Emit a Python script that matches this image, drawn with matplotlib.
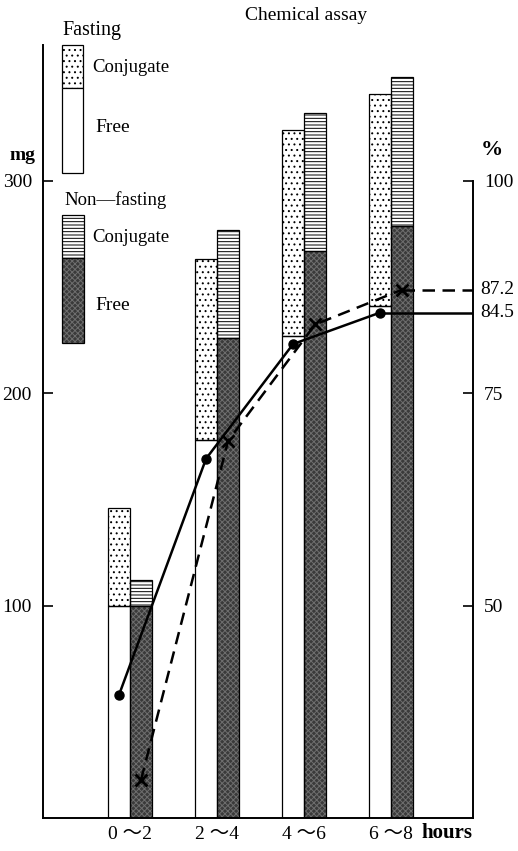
import matplotlib
matplotlib.use("Agg")
import matplotlib.pyplot as plt
from matplotlib.patches import Rectangle
import numpy as np

# data
categories = ["0 ～2", "2 ～4", "4 ～6", "6 ～8"]
fasting_free = [100, 178, 227, 241]          # mg
fasting_total = [146, 263, 324, 341]         # mg (free + conjugate)
nonfasting_free = [100, 226, 267, 279]       # mg
nonfasting_total = [112, 277, 332, 349]      # mg
fasting_pct = [39.5, 67.3, 80.8, 84.5]       # %
nonfasting_pct = [29.5, 69.4, 83.1, 87.2]    # %
mg_ticks = [100, 200, 300]
pct_ticks = [50, 75, 100]

W, H = 518, 851
FONT = ["Liberation Serif", "Noto Sans CJK JP", "DejaVu Serif"]
plt.rcParams["font.family"] = FONT
plt.rcParams["hatch.linewidth"] = 0.7

DARK = "#3a3a3a"
DARK_HATCH = "#6e6e6e"


def fx(x):
    return x / W


def fy(y):
    return 1 - y / H


def layered_bar(ax, x, bottom, height, w, face, hatch=None, hcolor="black"):
    ax.bar(x, height, w, bottom=bottom, color=face, edgecolor="none", linewidth=0, zorder=1)
    if hatch:
        ax.bar(x, height, w, bottom=bottom, fill=False, hatch=hatch,
               edgecolor=hcolor, linewidth=0, zorder=2)
    ax.bar(x, height, w, bottom=bottom, fill=False, edgecolor="black", linewidth=0.9, zorder=3)


def legend_box(fig, x0, x1, y0, y1, face, hatch=None, hcolor="black"):
    xy = (fx(x0), fy(y1))
    w, h = fx(x1) - fx(x0), fy(y0) - fy(y1)
    fig.patches.append(Rectangle(xy, w, h, transform=fig.transFigure,
                                 facecolor=face, edgecolor="none", lw=0))
    if hatch:
        fig.patches.append(Rectangle(xy, w, h, transform=fig.transFigure, fill=False,
                                     hatch=hatch, edgecolor=hcolor, lw=0))
    fig.patches.append(Rectangle(xy, w, h, transform=fig.transFigure, fill=False,
                                 edgecolor="black", lw=0.9))


fig = plt.figure(figsize=(W / 100, H / 100), dpi=100)
ax = fig.add_axes([fx(43), fy(818), fx(473) - fx(43), fy(45) - fy(818)])

x = np.arange(len(categories))
bw = 0.253
xf = x - bw / 2
xn = x + bw / 2
f_conj = np.array(fasting_total) - np.array(fasting_free)
n_conj = np.array(nonfasting_total) - np.array(nonfasting_free)

for i in range(len(categories)):
    layered_bar(ax, xf[i], 0, fasting_free[i], bw, "white")
    layered_bar(ax, xf[i], fasting_free[i], f_conj[i], bw, "white", "...")
    layered_bar(ax, xn[i], 0, nonfasting_free[i], bw, DARK, "xxxxxx", DARK_HATCH)
    layered_bar(ax, xn[i], nonfasting_free[i], n_conj[i], bw, "white", "-----")

ymax = 364
ax.set_ylim(0, ymax)
ax.set_xlim(-1.0, 3.94)
ax.set_yticks(mg_ticks)
ax.set_xticks(x)
ax.set_xticklabels(categories, fontsize=14)
ax.tick_params(axis="x", length=0, pad=6)
ax.tick_params(axis="y", direction="in", length=7, width=1.2, labelsize=14, pad=8)
for s in ["top", "right"]:
    ax.spines[s].set_visible(False)
for s in ["left", "bottom"]:
    ax.spines[s].set_linewidth(1.4)

ax2 = ax.twinx()
ax2.set_ylim(25, 25 + ymax / 4)
ax2.set_yticks(pct_ticks)
ax2.tick_params(axis="y", direction="in", length=7, width=1.2, labelsize=14, pad=8)
for s in ["top", "left", "bottom"]:
    ax2.spines[s].set_visible(False)
ax2.spines["right"].set_linewidth(1.4)
ax2.spines["right"].set_bounds(25, 100)

xr = ax.get_xlim()[1]
ax2.plot(xf, fasting_pct, color="black", lw=1.8, marker="o", ms=6.5, zorder=5)
ax2.plot([xf[-1], xr], [fasting_pct[-1]] * 2, color="black", lw=1.8, zorder=5)
ax2.plot(xn, nonfasting_pct, color="black", lw=1.8, ls=(0, (5, 3)), marker="x",
         ms=8, mew=2, zorder=5)
ax2.plot([xn[-1], xr], [nonfasting_pct[-1]] * 2, color="black", lw=1.8,
         ls=(0, (5, 3)), zorder=5)
ax2.text(xr + 0.08, fasting_pct[-1], f"{fasting_pct[-1]}", fontsize=14,
         va="center", ha="left", clip_on=False)
ax2.text(xr + 0.08, nonfasting_pct[-1], f"{nonfasting_pct[-1]}", fontsize=14,
         va="center", ha="left", clip_on=False)

# legend
legend_box(fig, 62, 83, 45, 88, "white", "...")
legend_box(fig, 62, 83, 88, 173, "white")
legend_box(fig, 62, 84, 215, 258, "white", "-----")
legend_box(fig, 62, 84, 258, 343, DARK, "xxxxxx", DARK_HATCH)
fig.text(fx(62), fy(30), "Fasting", fontsize=14.5, va="center", ha="left")
fig.text(fx(92), fy(67), "Conjugate", fontsize=13.5, va="center", ha="left")
fig.text(fx(95), fy(127), "Free", fontsize=14, va="center", ha="left")
fig.text(fx(64), fy(200), "Non—fasting", fontsize=13.5, va="center", ha="left")
fig.text(fx(92), fy(238), "Conjugate", fontsize=13.5, va="center", ha="left")
fig.text(fx(95), fy(305), "Free", fontsize=14, va="center", ha="left")

fig.text(fx(306), fy(15), "Chemical assay", fontsize=14, va="center", ha="center")
fig.text(fx(22), fy(156), "mg", fontsize=14, va="center", ha="center", weight="bold")
fig.text(fx(492), fy(150), "%", fontsize=16, va="center", ha="center", weight="bold")
fig.text(fx(447), fy(833), "hours", fontsize=15, va="center", ha="center", weight="bold")

fig.savefig("out.png", dpi=100)
